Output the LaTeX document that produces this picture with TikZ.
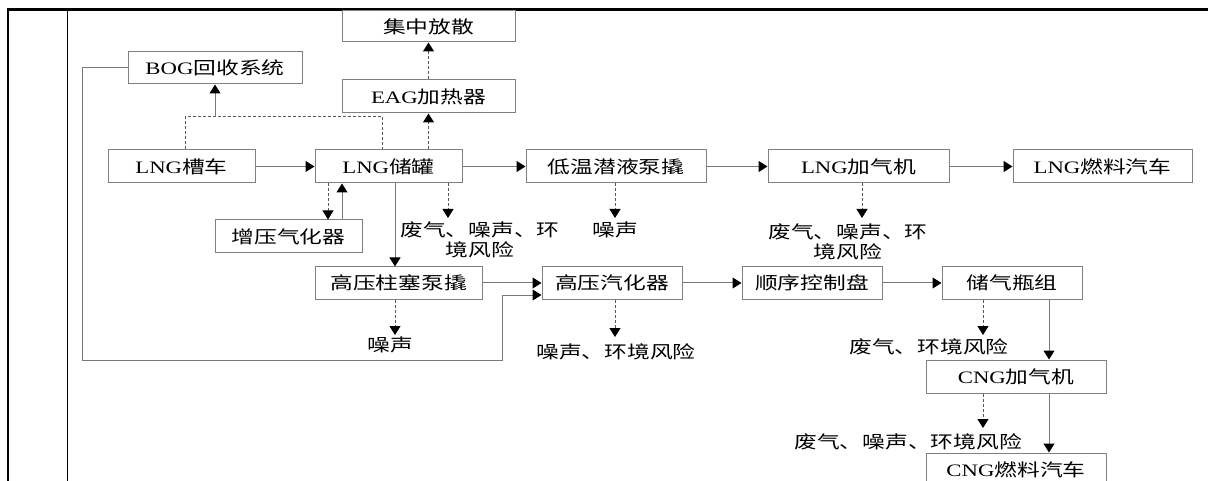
\documentclass[tikz,border=0pt]{standalone}
\usepackage{fontspec}
\setmainfont{Liberation Serif}[FakeStretch=1.3]
\newfontfamily\cjk{Noto Sans CJK SC}[FakeStretch=1.3]
\usetikzlibrary{arrows.meta}
\definecolor{boxgray}{RGB}{128,128,128}
\definecolor{linegray}{RGB}{120,120,120}
\definecolor{dashgray}{RGB}{90,90,90}
\newcommand{\zh}[1]{{\cjk #1}}
\begin{document}
\begin{tikzpicture}[x=1pt,y=-1pt,
  box/.style={draw=boxgray, line width=1pt, minimum height=33pt, inner sep=0pt,
    font=\fontsize{17.5}{21}\selectfont},
  lbl/.style={inner sep=0pt, align=center, font=\fontsize{17.5}{20}\selectfont\cjk},
  conn/.style={draw=linegray, line width=1pt, -{Triangle[length=9pt,width=11pt,color=black]}},
  dconn/.style={conn, draw=dashgray, dash pattern=on 3pt off 2pt},
  dline/.style={draw=dashgray, line width=1pt, dash pattern=on 3pt off 2pt},
  sline/.style={draw=linegray, line width=1pt}]
\useasboundingbox (0,0) rectangle (1208,481);
% frame
\draw[line width=3pt] (7,9.5) -- (1208,9.5);
\draw[line width=2.5pt] (8,8) -- (8,481);
\draw[line width=1.2pt] (67.5,11) -- (67.5,481);
% nodes
\node[box, minimum width=173pt, minimum height=31pt] (jz) at (428.5,26.5) {\zh{集中放散}};
\node[box, minimum width=173pt] (eag) at (428.5,96.5) {EAG\zh{加热器}};
\node[box, minimum width=174pt, minimum height=32pt] (bog) at (215,68) {BOG\zh{回收系统}};
\node[box, minimum width=147pt] (truck) at (181.5,166.5) {LNG\zh{槽车}};
\node[box, minimum width=147pt] (tank) at (388.5,166.5) {LNG\zh{储罐}};
\node[box, minimum width=180pt] (pump) at (616,166.5) {\zh{低温潜液泵撬}};
\node[box, minimum width=181pt] (lngd) at (858.5,166.5) {LNG\zh{加气机}};
\node[box, minimum width=179pt] (lngcar) at (1102.5,166.5) {LNG\zh{燃料汽车}};
\node[box, minimum width=147pt] (boost) at (288.5,236.5) {\zh{增压气化器}};
\node[box, minimum width=167pt, minimum height=32pt] (hpp) at (398.5,283) {\zh{高压柱塞泵撬}};
\node[box, minimum width=140pt, minimum height=32pt] (hpv) at (612,283) {\zh{高压汽化器}};
\node[box, minimum width=140pt, minimum height=32pt] (seq) at (812,283) {\zh{顺序控制盘}};
\node[box, minimum width=140pt, minimum height=32pt] (store) at (1012,283) {\zh{储气瓶组}};
\node[box, minimum width=180pt] (cngd) at (1016,376.5) {CNG\zh{加气机}};
\node[box, minimum width=180pt] (cngcar) at (1016,469.5) {CNG\zh{燃料汽车}};
% labels
\node[lbl] (l1) at (480,240) {废气、噪声、环\\境风险};
\node[lbl] (l2) at (615,230) {噪声};
\node[lbl] (l3) at (848,242) {废气、噪声、环\\境风险};
\node[lbl] (l4) at (390,345) {噪声};
\node[lbl] (l5) at (616,352) {噪声、环境风险};
\node[lbl] (l6) at (929,347) {废气、环境风险};
\node[lbl] (l7) at (908,442) {废气、噪声、环境风险};
% main row
\draw[conn] (truck.east) -- (tank.west);
\draw[conn] (tank.east) -- (pump.west);
\draw[conn] (pump.east) -- (lngd.west);
\draw[conn] (lngd.east) -- (lngcar.west);
% up to EAG and vent
\draw[dconn] (tank.north -| eag.south) -- (eag.south);
\draw[dconn] (eag.north) -- (jz.south);
% BOG collection
\coordinate (bj) at (215,117);
\draw[dline] (truck.north -| 185,0) -- (185,117) -- (382,117) -- (tank.north -| 382,0);
\draw[conn] (bj) -- (bog.south);
% booster loop
\draw[dconn] (tank.south -| 328,0) -- (boost.north -| 328,0);
\draw[conn] (boost.north -| 342,0) -- (tank.south -| 342,0);
% tank to high pressure pump
\draw[conn] (tank.south -| 395,0) -- (hpp.north -| 395,0);
% emissions from tank
\draw[dconn] (tank.south -| 448,0) -- (448,218);
\draw[dconn] (pump.south -| 615,0) -- (615,218);
\draw[dconn] (lngd.south -| 862,0) -- (862,218);
% CNG row
\draw[conn] (hpp.east) -- (hpv.west);
\draw[conn] (hpv.east) -- (seq.west);
\draw[conn] (seq.east) -- (store.west);
\draw[dconn] (hpp.south -| 395,0) -- (395,335);
\draw[dconn] (hpv.south -| 615,0) -- (615,337);
\draw[dconn] (store.south -| 983,0) -- (983,335);
\draw[conn] (store.south -| 1049,0) -- (cngd.north -| 1049,0);
\draw[dconn] (cngd.south -| 983,0) -- (983,428);
\draw[conn] (cngd.south -| 1049,0) -- (cngcar.north -| 1049,0);
% BOG return line to high pressure vaporizer
\draw[conn] (bog.west) -- (82,68) -- (82,360) -- (502,360) -- (502,295) -- (hpv.west |- 0,295);
\end{tikzpicture}
\end{document}
